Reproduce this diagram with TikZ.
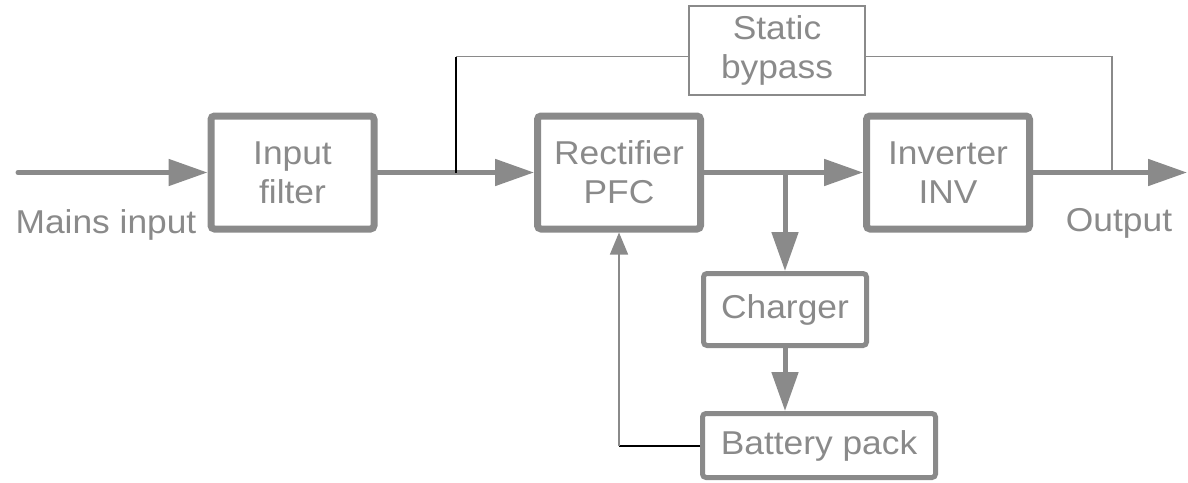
\documentclass[tikz,border=0pt]{standalone}
\usepackage{fontspec}
\setmainfont{Liberation Sans}[FakeStretch=1.07]
\usetikzlibrary{arrows.meta,positioning}
\definecolor{ugray}{RGB}{138,138,138}

\begin{document}
\begin{tikzpicture}[
    block/.style={draw=ugray, line width=0.14cm, rounded corners=2pt, minimum width=3.26cm, minimum height=2.26cm, align=center, text=ugray, font=\fontsize{18.8}{22}\selectfont},
    small/.style={block, line width=0.1cm},
    thinbox/.style={block, line width=0.03cm, rounded corners=0pt},
    flow/.style={ugray, line width=0.1cm, line cap=round, -{Triangle[length=0.78cm,width=0.52cm]}},
    link/.style={ugray, line width=0.03cm},
    tap/.style={black, line width=0.04cm},
    lbl/.style={text=ugray, font=\fontsize{18.8}{22}\selectfont},
  ]
    \useasboundingbox (0,0) rectangle (23.76,-9.64);

    \node[block] (filt) at (5.85,-3.45) {Input\\filter};
    \node[block] (rect) at (12.38,-3.45) {Rectifier\\PFC};
    \node[block] (inv) at (18.96,-3.45) {Inverter\\INV};
    \node[thinbox, minimum width=3.52cm, minimum height=1.78cm] (byp) at (15.54,-1.01) {Static\\bypass};
    \node[small, minimum height=1.44cm] (chg) at (15.7,-6.19) {Charger};
    \node[small, minimum width=4.66cm, minimum height=1.28cm] (bat) at (16.38,-8.91) {Battery pack};

    \node[lbl] (mains) at (2.12,-4.5) {Mains input};
    \node[lbl] (outl) at (22.38,-4.46) {Output};

    \coordinate (in) at (0.36,-3.45);
    \coordinate (out) at (23.74,-3.45);
    \coordinate (tap) at (9.12,-3.45);
    \coordinate (split) at (15.7,-3.45);
    \coordinate (bl) at (9.12,-1.13);
    \coordinate (br) at (22.24,-1.13);
    \coordinate (fb) at (rect.south |- bat.west);

    % main power path
    \draw[flow] (in) -- (filt);
    \draw[flow] (filt) -- (rect);
    \draw[flow] (rect) -- (inv);
    \draw[flow] (inv.east) -- (out);
    \draw[flow] (split) -- (chg);
    \draw[flow] (chg) -- (chg.south |- bat.north);

    % bypass
    \draw[tap] (tap) -- (bl);
    \draw[link] (bl) -- (bl -| byp.west);
    \draw[link] (bl -| byp.east) -- (br) -- (br |- out);

    % battery feed
    \draw[tap] (bat.west) -- (fb);
    \draw[link, -{Triangle[length=0.44cm,width=0.36cm]}] (fb) -- (rect.south);
  \end{tikzpicture}
\end{document}
